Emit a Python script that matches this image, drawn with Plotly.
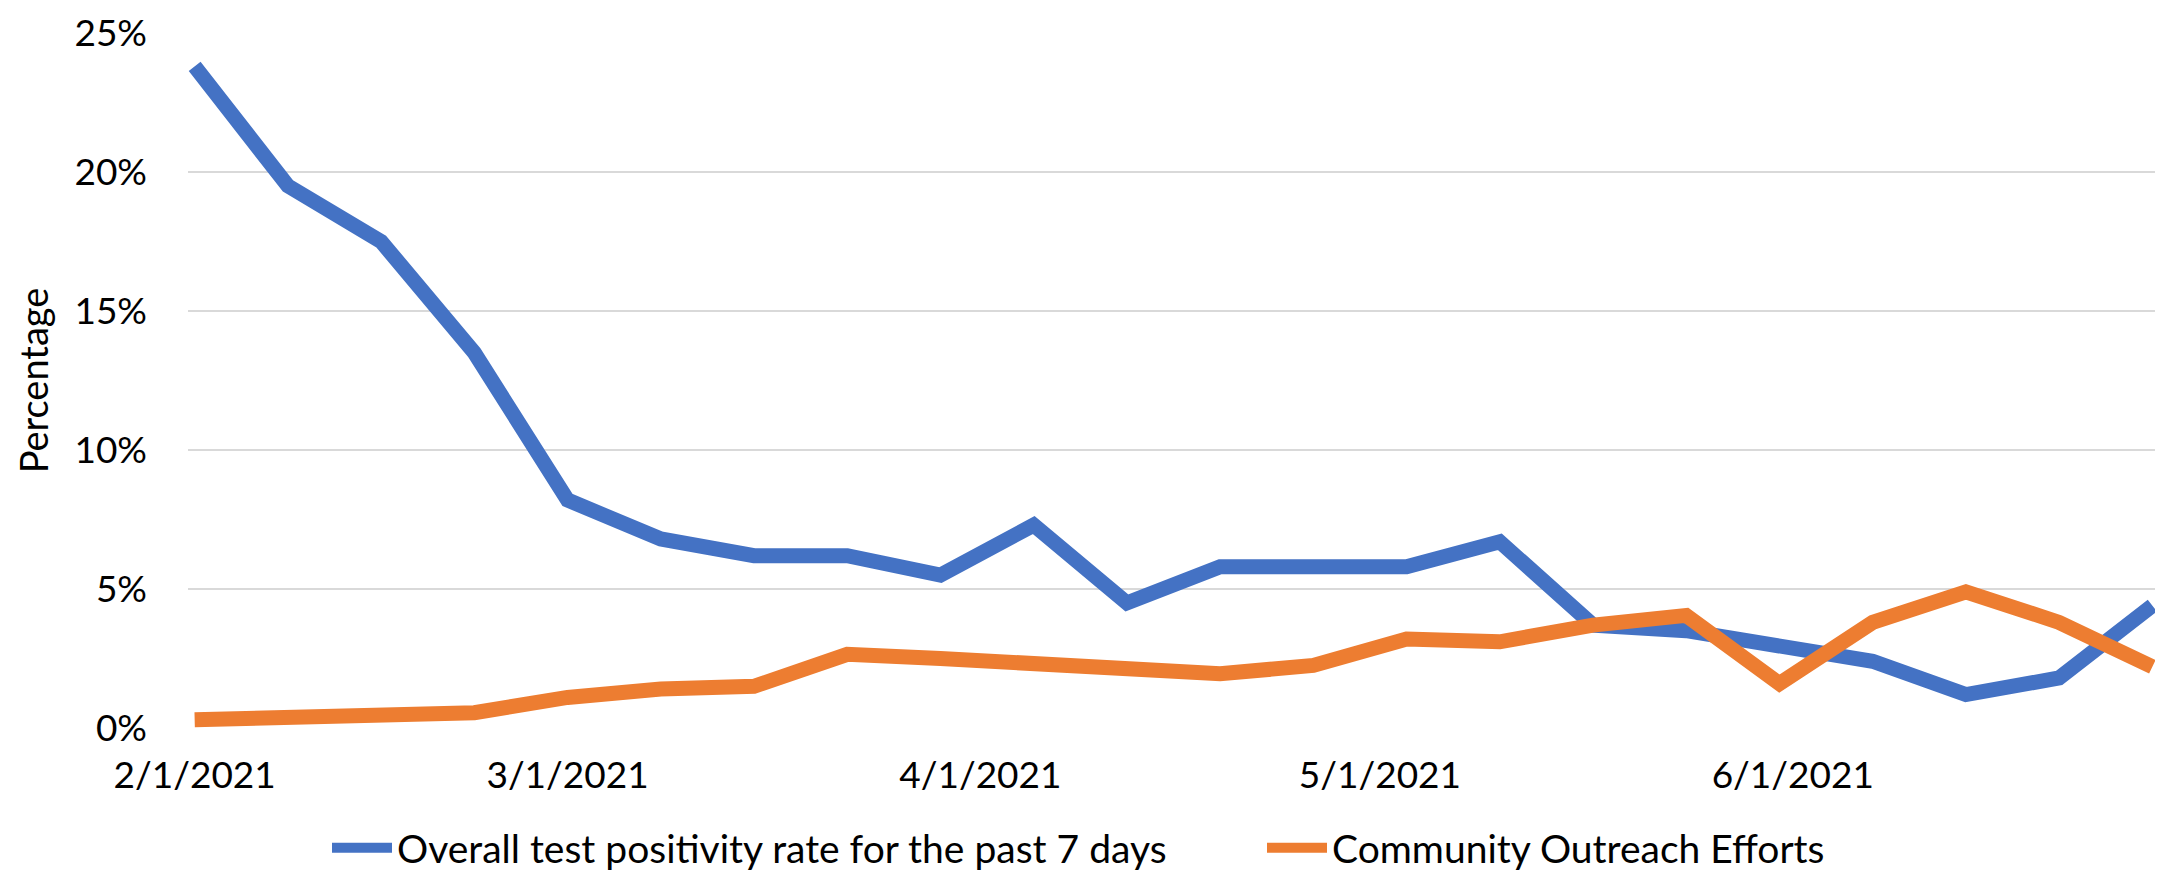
import plotly.graph_objects as go
import pandas as pd

# Weekly dates
dates = pd.date_range("2021-02-01", "2021-06-28", freq="7D")

positivity = [23.8, 19.5, 17.5, 13.5, 8.2, 6.8, 6.2, 6.2, 5.5, 7.3, 4.5,
              5.8, 5.8, 5.8, 6.7, 3.7, 3.5, 2.9, 2.4, 1.2, 1.8, 4.4]
outreach = [0.3, 0.4, 0.45, 0.55, 1.1, 1.4, 1.5, 2.65, 2.5, 2.3, 2.05,
            1.95, 2.25, 3.2, 3.1, 3.7, 4.05, 1.6, 3.8, 4.9, 3.8, 2.2]

series_names = ["Overall test positivity rate for the past 7 days",
                "Community Outreach Efforts"]
series_colors = ["#4472C4", "#ED7D31"]

x_tick_vals = ["2021-02-01", "2021-03-01", "2021-04-01", "2021-05-01", "2021-06-01"]
x_tick_text = ["2/1/2021", "3/1/2021", "4/1/2021", "5/1/2021", "6/1/2021"]
y_tick_vals = [0, 5, 10, 15, 20, 25]
y_tick_text = ["0%", "5%", "10%", "15%", "20%", "25%"]

FONT = "Lato, Calibri, Carlito, sans-serif"

fig = go.Figure()
for name, vals, col in zip(series_names, [positivity, outreach], series_colors):
    fig.add_trace(go.Scatter(
        x=dates, y=vals, mode="lines", name=name,
        line=dict(color=col, width=15),
    ))

fig.update_layout(
    width=2163, height=872,
    margin=dict(l=180, r=12, t=25, b=152),
    plot_bgcolor="white", paper_bgcolor="white",
    font=dict(family=FONT, size=37, color="#000000"),
    showlegend=True,
    legend=dict(
        orientation="h",
        xref="container", yref="container",
        x=319 / 2163, xanchor="left",
        y=1 - 840 / 872, yanchor="middle",
        font=dict(family=FONT, size=39, color="#000000"),
        itemwidth=60,
        entrywidth=860,
        bgcolor="rgba(0,0,0,0)",
    ),
)

fig.update_xaxes(
    type="date",
    range=["2021-01-31 12:00", "2021-06-28 12:00"],
    tickmode="array", tickvals=x_tick_vals, ticktext=x_tick_text,
    showgrid=False, zeroline=False, showline=False,
    ticks="", ticklabelstandoff=22,
    tickfont=dict(family=FONT, size=37, color="#000000"),
    automargin=False,
)

fig.update_yaxes(
    range=[0, 25],
    tickmode="array", tickvals=y_tick_vals, ticktext=y_tick_text,
    showgrid=True, gridcolor="#d9d9d9", gridwidth=2,
    zeroline=False, showline=False, ticks="",
    ticklabelstandoff=40,
    tickfont=dict(family=FONT, size=37, color="#000000"),
    title=dict(text="Percentage", font=dict(family=FONT, size=38, color="#000000"), standoff=14),
    automargin=False,
)

fig.write_html("out.html")
